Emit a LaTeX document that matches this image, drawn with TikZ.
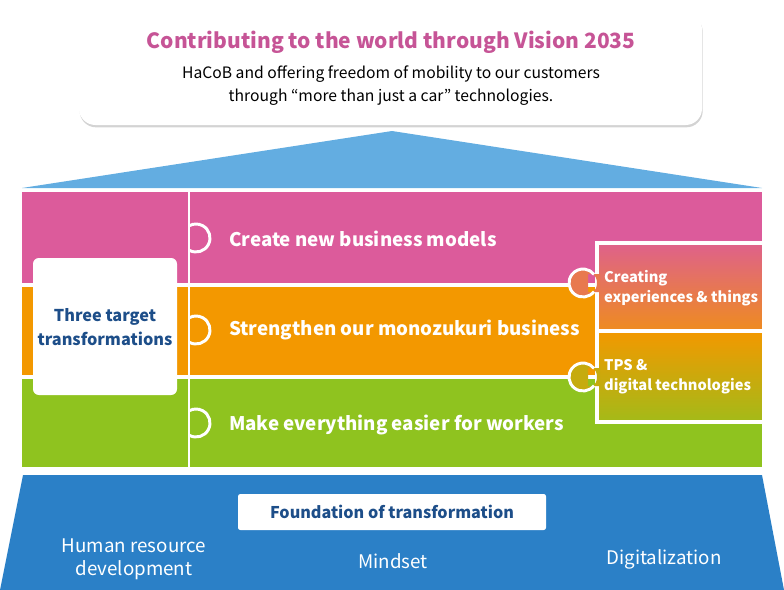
\documentclass[tikz,border=0pt]{standalone}
\usepackage{fontspec}
\setmainfont{Noto Sans CJK JP}
\usetikzlibrary{shadows}
\definecolor{bandpink}{HTML}{DC5B9B}
\definecolor{bandorange}{HTML}{F39800}
\definecolor{bandgreen}{HTML}{8FC31F}
\definecolor{roofblue}{HTML}{63ADE1}
\definecolor{baseblue}{HTML}{2B80C7}
\definecolor{inkblue}{HTML}{1D4E89}
\definecolor{titlepink}{HTML}{C65496}
\begin{document}
\begin{tikzpicture}[x=0.03cm,y=-0.03cm,
  bandtext/.style={anchor=west,text=white,font=\bfseries\fontsize{16}{20}\selectfont},
  sidetext/.style={anchor=west,align=left,text=white,font=\bfseries\fontsize{12.5}{17}\selectfont},
  basetext/.style={align=center,text=white,font=\fontsize{16}{19.5}\selectfont},
  knob/.style={draw=white,line width=2.5pt}]
\useasboundingbox (0,0) rectangle (784,590);
\fill[roofblue] (22,188) -- (392,131) -- (762,188) -- cycle;
\fill[white,rounded corners=14,drop shadow={shadow xshift=0.6pt,shadow yshift=-2pt,opacity=0.35}] (79,13) rectangle (702,125);
\node[text=titlepink,font=\bfseries\fontsize{17.9}{22}\selectfont] (title) at (391,42) {Contributing to the world through Vision 2035};
\node[align=center,font=\fontsize{13.4}{19.5}\selectfont] (mission) at (391,86) {HaCoB and offering freedom of mobility to our customers\\through “more than just a car” technologies.};
\fill[bandpink] (22,192) rectangle (762,283);
\fill[bandorange] (22,287) rectangle (762,375);
\fill[bandgreen] (22,379) rectangle (762,467);
\draw[white,line width=2.5pt] (189,192) -- (189,467);
\foreach \y in {238,330,423}
  \draw[knob] ([shift={(118:14)}]196,\y) arc[start angle=118,end angle=-118,radius=14];
\shade[top color=bandpink!90!bandorange,bottom color=bandorange!80!bandpink,draw=white,line width=3pt] (597,243) rectangle (764,331);
\shade[top color=bandorange,bottom color=bandgreen!80!bandorange,draw=white,line width=3pt] (597,331) rectangle (764,422);
\fill[bandpink!50!bandorange] (583,283) circle[radius=14] (588,274) rectangle (600,292);
\draw[knob] ([shift={(38:14)}]583,283) arc[start angle=38,end angle=322,radius=14];
\fill[bandorange!55!bandgreen] (583,377) circle[radius=14] (588,368) rectangle (600,386);
\draw[knob] ([shift={(38:14)}]583,377) arc[start angle=38,end angle=322,radius=14];
\node[bandtext] (create) at (225,239) {Create new business models};
\node[bandtext] (strengthen) at (225,330) {Strengthen our monozukuri business};
\node[bandtext] (easier) at (225,425) {Make everything easier for workers};
\node[sidetext] (experiences) at (600,288) {Creating\\experiences \& things};
\node[sidetext] (tps) at (600,377) {TPS \&\\digital technologies};
\fill[white,rounded corners=5] (33,258) rectangle (177,395);
\node[align=center,text=inkblue,font=\bfseries\fontsize{13.9}{20}\selectfont] (three) at (105,327) {Three target\\transformations};
\fill[baseblue] (23,475) -- (762,475) -- (784,590) -- (0,590) -- cycle;
\fill[white,rounded corners=2] (238,494) rectangle (546,530);
\node[text=inkblue,font=\bfseries\fontsize{13.8}{18}\selectfont] (foundation) at (392,512) {Foundation of transformation};
\node[basetext] (human) at (134,559) {Human resource\\development};
\node[basetext] (mindset) at (393,561) {Mindset};
\node[basetext] (digital) at (664,559) {Digitalization};
\end{tikzpicture}
\end{document}
